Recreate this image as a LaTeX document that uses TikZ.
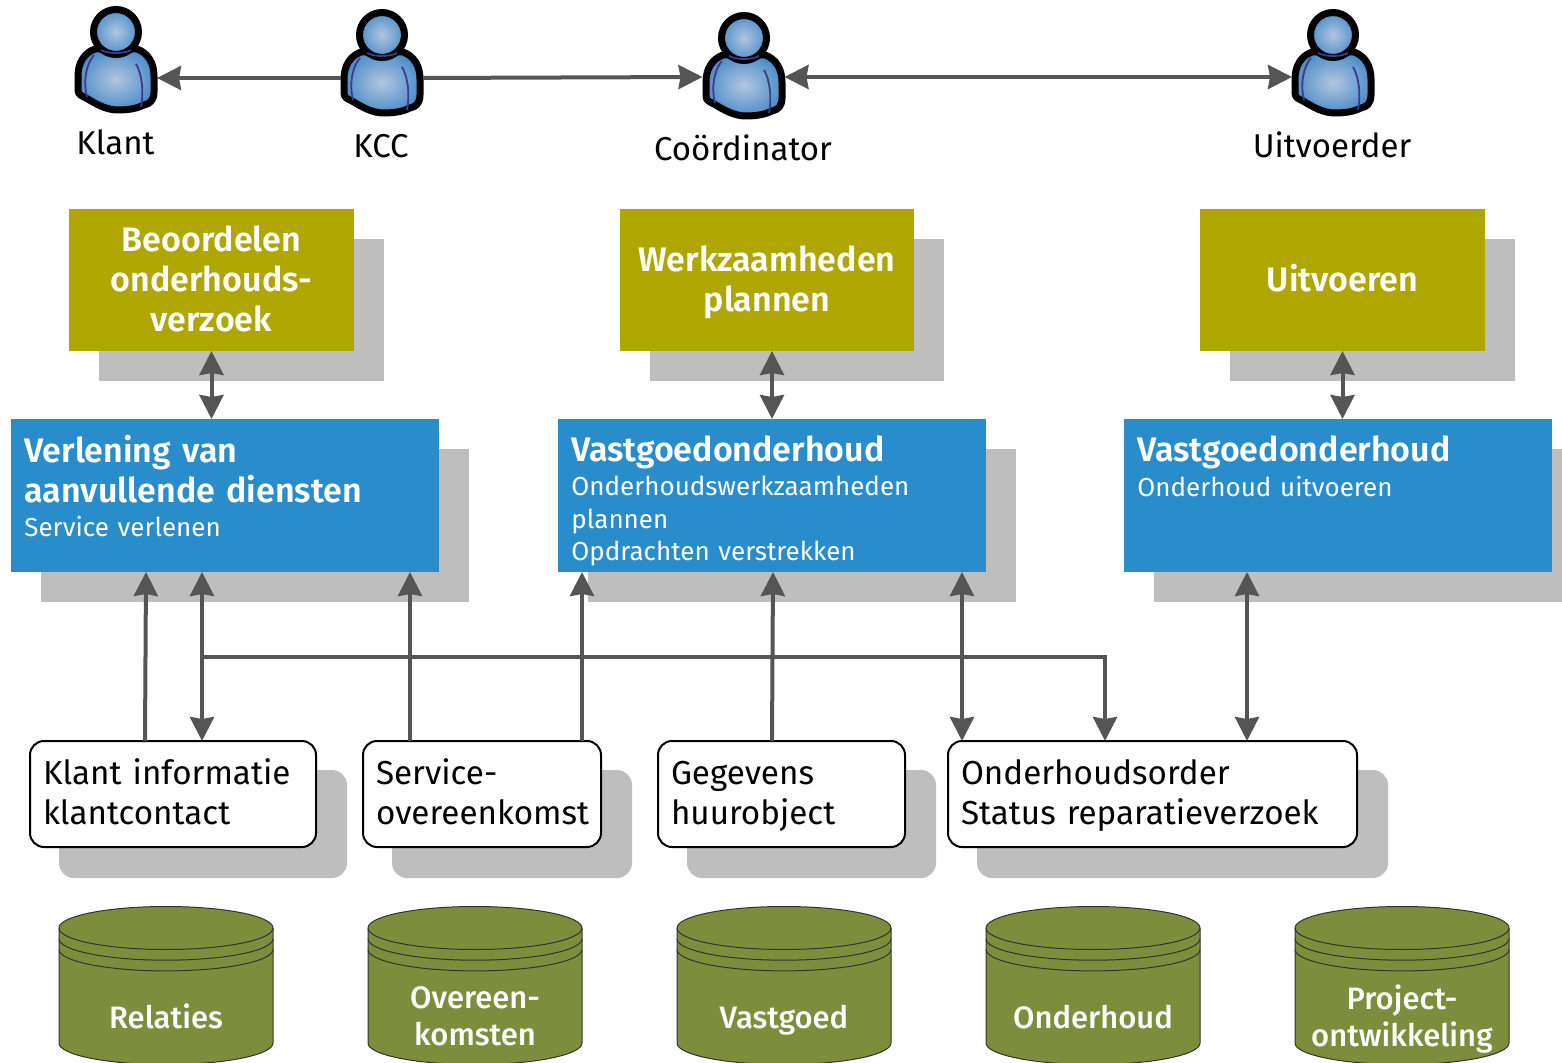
\documentclass[tikz,border=0pt]{standalone}
\usepackage{fontspec}
\setmainfont{Fira Sans}
\newfontfamily\titlefont{Fira Sans SemiBold}
\newfontfamily\storefont{Fira Sans Medium}
\usetikzlibrary{calc}
\usetikzlibrary{arrows.meta}
\usetikzlibrary{shadows}

\definecolor{olivebox}{HTML}{AFA600}
\definecolor{bluebox}{HTML}{2A8DCB}
\definecolor{shadowgrey}{HTML}{BEBEBE}
\definecolor{cylgreen}{HTML}{7C8E3B}
\definecolor{arrowgrey}{HTML}{555555}
\definecolor{collar}{HTML}{3E3A8C}
\definecolor{bodyblue}{HTML}{4F8FC9}
\definecolor{bodylight}{HTML}{B2C6E0}

\tikzset{
    greyshadow/.style={copy shadow={shadow xshift=15pt, shadow yshift=-15pt, fill=shadowgrey, draw=none}},
    infoshadow/.style={copy shadow={shadow xshift=15pt, shadow yshift=-15pt, fill=shadowgrey, draw=shadowgrey}},
    conn/.style={draw=arrowgrey, line width=2pt},
    oneway/.style={conn, -{Stealth[length=12pt, width=12pt, inset=1pt]}},
    twoway/.style={conn, {Stealth[length=12pt, width=12pt, inset=1pt]}-{Stealth[length=12pt, width=12pt, inset=1pt]}},
    actor/.style={minimum width=41pt, minimum height=40pt, inner sep=0pt, outer sep=0pt},
    actorlabel/.style={font=\fontsize{16.5pt}{18pt}\selectfont, inner sep=0pt},
    taskbox/.style={anchor=north west, fill=olivebox, text=white, greyshadow, align=center, inner sep=0pt, outer sep=0pt, minimum height=71pt, font=\fontsize{17pt}{20pt}\selectfont\titlefont, execute at begin node={\rule{0pt}{18pt}}, execute at end node=\strut},
    servicebox/.style={anchor=north west, fill=bluebox, greyshadow, inner sep=0pt, outer sep=0pt, minimum width=214pt, minimum height=76.5pt},
    servicetext/.style={anchor=north west, text=white, align=left, inner sep=0pt, text width=200pt, font=\fontsize{17pt}{20pt}\selectfont\titlefont},
    subtext/.style={anchor=north west, text=white, align=left, inner sep=0pt, text width=200pt, font=\fontsize{13pt}{16.2pt}\selectfont},
    infobox/.style={anchor=north west, draw=black, line width=1pt, fill=white, rounded corners=7pt, infoshadow, align=left, minimum height=53pt, inner sep=0pt, outer sep=0pt, font=\fontsize{16.6pt}{20.2pt}\selectfont, execute at begin node={\rule{0pt}{16.6pt}}, execute at end node=\strut},
    storetext/.style={text=white, align=center, inner sep=0pt, font=\fontsize{15.5pt}{18.5pt}\selectfont\storefont, execute at begin node=\strut, execute at end node=\strut},
    pics/person/.style={code={
        % body
        \draw[line width=3.5pt, shading=radial, inner color=bodylight, outer color=bodyblue, line join=round]
            (-21,17) .. controls (-32,21) and (-38,31) .. (-38,44)
            -- (-38,58) .. controls (-38,63) and (-34,64) .. (-30,66)
            .. controls (-20,72) and (-10,78) .. (2,78)
            .. controls (14,78) and (22,76) .. (28,73)
            .. controls (34,72) and (38,68) .. (38,60)
            -- (38,44) .. controls (38,31) and (32,21) .. (21,17) -- cycle;
        \draw[collar, line width=.9pt] (-22,23) .. controls (-30,32) and (-33,50) .. (-29,65);
        \draw[collar, line width=.9pt] (20,32) .. controls (26,42) and (28,60) .. (25,75);
        % head
        \draw[line width=3.5pt, shading=radial, inner color=bodylight, outer color=bodyblue] (0,0) circle [radius=22.5];
        \draw[collar, line width=.9pt] (-15,18) .. controls (-8,22) and (8,22) .. (15,18);
    }},
    pics/store/.style={code={
        \draw[draw=black!80, line width=.5pt, fill=cylgreen]
            (-107,0) arc [start angle=180, end angle=360, x radius=107, y radius=21.5]
            -- (107,115) arc [start angle=0, end angle=180, x radius=107, y radius=21.5] -- cycle;
        \draw[draw=black!80, line width=.5pt] (-107,0) arc [start angle=180, end angle=0, x radius=107, y radius=21.5];
        \draw[draw=black!80, line width=.5pt] (-107,10.7) arc [start angle=180, end angle=0, x radius=107, y radius=21.5];
        \draw[draw=black!80, line width=.5pt] (-107,21.4) arc [start angle=180, end angle=0, x radius=107, y radius=21.5];
    }},
}

\begin{document}
\begin{tikzpicture}[x=0.5pt, y=-0.5pt]

    \useasboundingbox (0,0) rectangle (1562,1063);

    % Draw actors
    \pic at (116,32) {person};
    \pic at (382,35) {person};
    \pic at (744,38) {person};
    \pic at (1333,35) {person};
    \node[actor] (klant) at (116,78) {};
    \node[actor] (kcc) at (382,78) {};
    \node[actor] (coordinator) at (743.5,77) {};
    \node[actor] (uitvoerder) at (1333,77) {};

    \node[actorlabel] (klantlabel) at (115.5,142.5) {Klant};
    \node[actorlabel] (kcclabel) at (381,146) {KCC};
    \node[actorlabel] (coordinatorlabel) at (743,148) {Coördinator};
    \node[actorlabel] (uitvoerderlabel) at (1332,145) {Uitvoerder};

    % Draw tasks
    \node[taskbox, minimum width=142.5pt, text width=142.5pt] (beoordelen) at (69,209) {Beoordelen\\onderhouds-\\verzoek};
    \node[taskbox, minimum width=147pt, text width=147pt] (plannen) at (620,209) {Werkzaamheden\\plannen};
    \node[taskbox, minimum width=142.5pt, text width=142.5pt] (uitvoeren) at (1200,209) {Uitvoeren};

    % Draw services
    \node[servicebox] (verlening) at (11,419) {};
    \node[servicebox] (vastgoedplan) at (558,419) {};
    \node[servicebox] (vastgoeduit) at (1124,419) {};

    \node[servicetext] (verleningtitle) at ($(verlening.north west)+(13,16)$) {Verlening van\\aanvullende diensten};
    \node[subtext] (verleningsub) at ($(verlening.north west)+(13,97)$) {Service verlenen};
    \node[servicetext] (plantitle) at ($(vastgoedplan.north west)+(13,16)$) {Vastgoedonderhoud};
    \node[subtext] (plansub) at ($(vastgoedplan.north west)+(13,57)$) {Onderhoudswerkzaamheden\\plannen\\Opdrachten verstrekken};
    \node[servicetext] (uittitle) at ($(vastgoeduit.north west)+(13,16)$) {Vastgoedonderhoud};
    \node[subtext] (uitsub) at ($(vastgoeduit.north west)+(13,57)$) {Onderhoud uitvoeren};

    % Draw information objects
    \node[infobox, minimum width=143pt, text width=130pt] (klantinfo) at (30,741) {Klant informatie\\klantcontact};
    \node[infobox, minimum width=119pt, text width=106pt] (serviceinfo) at (363,741) {Service-\\overeenkomst};
    \node[infobox, minimum width=123.5pt, text width=110.5pt] (huurobject) at (658,741) {Gegevens\\huurobject};
    \node[infobox, minimum width=204.5pt, text width=191.5pt] (order) at (948,741) {Onderhoudsorder\\Status reparatieverzoek};

    % Draw stores
    \pic at (166,928) {store};
    \pic at (475,928) {store};
    \pic at (784,928) {store};
    \pic at (1093,928) {store};
    \pic at (1402,928) {store};
    \node[storetext] (relaties) at (166,1021) {Relaties};
    \node[storetext] (overeenkomsten) at (475,1021.5) {Overeen-\\komsten};
    \node[storetext] (vastgoed) at (784,1021) {Vastgoed};
    \node[storetext] (onderhoud) at (1093,1021) {Onderhoud};
    \node[storetext] (project) at (1402,1021.5) {Project-\\ontwikkeling};

    % Draw actor arrows
    \draw[oneway] (kcc.west) -- (klant.east);
    \draw[oneway] (kcc.east) -- (coordinator.west);
    \draw[twoway] (coordinator.east) -- (uitvoerder.west);

    % Draw task arrows
    \draw[twoway] (beoordelen.south) -- ($(verlening.north west)+(200.5,0)$);
    \draw[twoway] ($(plannen.south)+(5,0)$) -- ($(vastgoedplan.north west)+(214,0)$);
    \draw[twoway] (uitvoeren.south) -- ($(vastgoeduit.north west)+(218.5,0)$);

    % Draw information arrows
    \draw[oneway] ($(klantinfo.north west)+(115,0)$) -- ($(verlening.south west)+(135,0)$);
    \draw[twoway] ($(verlening.south west)+(191,0)$) -- ($(klantinfo.north west)+(172,0)$);
    \draw[oneway] ($(serviceinfo.north west)+(47,0)$) -- ($(verlening.south west)+(399,0)$);
    \draw[oneway] ($(serviceinfo.north west)+(219,0)$) -- ($(vastgoedplan.south west)+(24,0)$);
    \draw[oneway] ($(huurobject.north west)+(114,0)$) -- ($(vastgoedplan.south west)+(215,0)$);
    \draw[twoway] ($(vastgoedplan.south west)+(404,0)$) -- ($(order.north west)+(14,0)$);
    \draw[twoway] ($(vastgoeduit.south west)+(123,0)$) -- ($(order.north west)+(299,0)$);

    \coordinate (branch) at (202,657);
    \draw[oneway] (branch) -| ($(order.north west)+(157,0)$);

\end{tikzpicture}
\end{document}
